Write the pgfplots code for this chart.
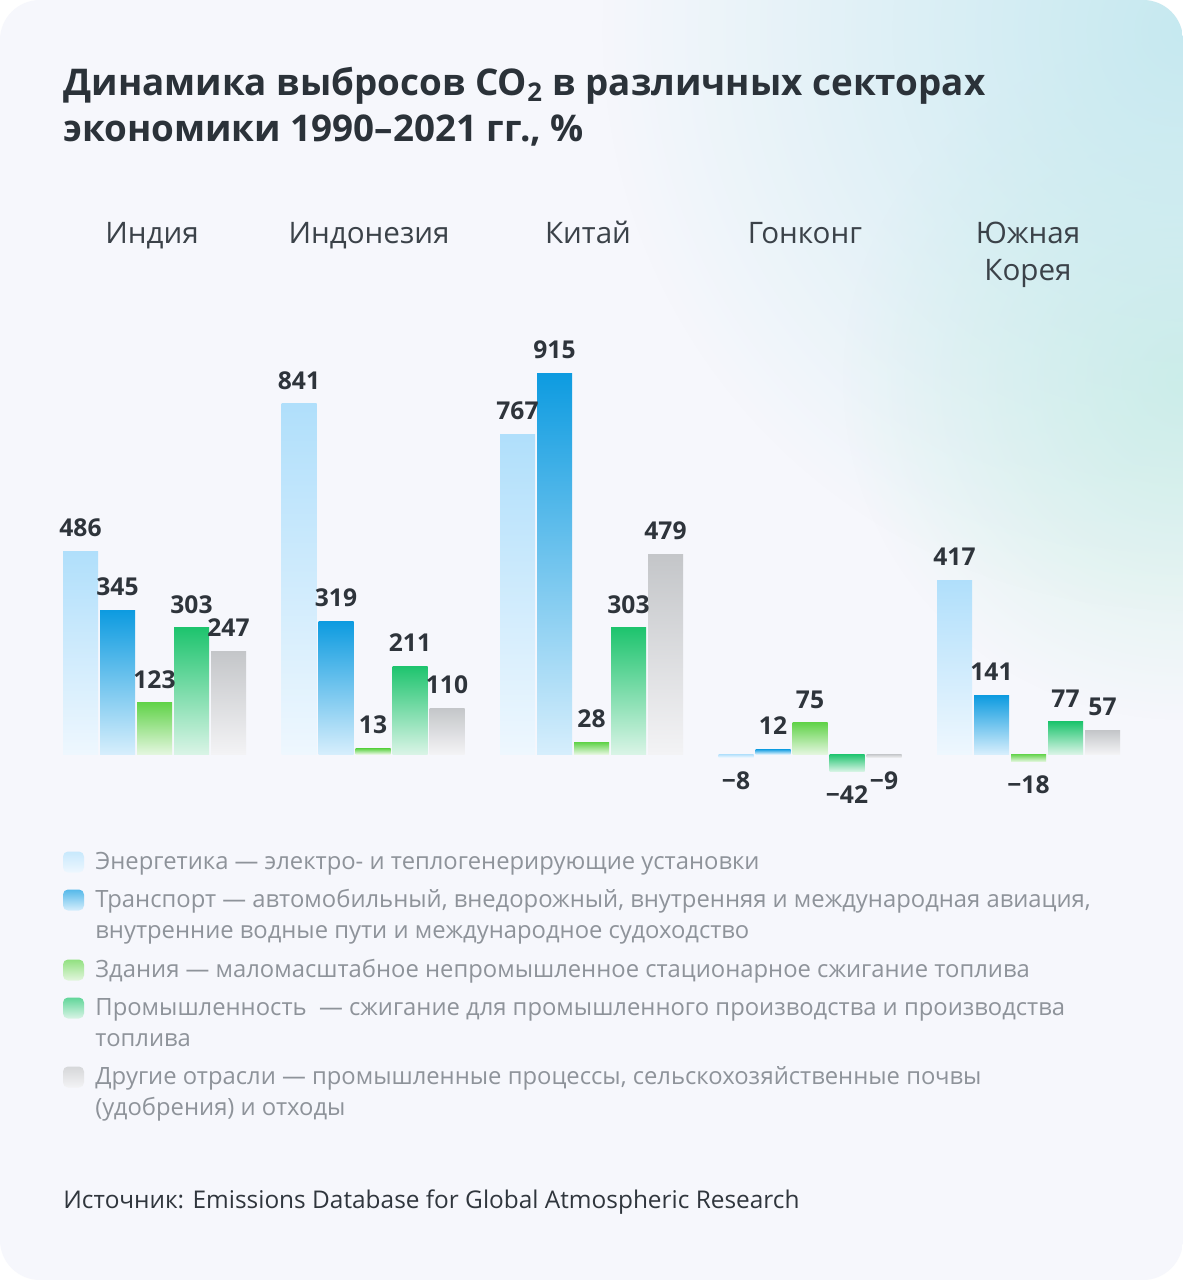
\documentclass[border=0pt]{standalone}
\usepackage{pgfplots}
\pgfplotsset{compat=1.18}
\usetikzlibrary{fadings}
\usepackage{fontspec}
\setmainfont{Open Sans}
\tikzfading[name=glowfade, inner color=transparent!0, outer color=transparent!100]
\definecolor{bgc}{HTML}{F6F7FC}
\definecolor{glowA}{HTML}{C6E9F0}
\definecolor{glowB}{HTML}{D0F0E6}
\definecolor{titlec}{HTML}{2B3239}
\definecolor{labc}{HTML}{3B4249}
\definecolor{valc}{HTML}{2E343B}
\definecolor{legc}{HTML}{8E939A}
\definecolor{srcc}{HTML}{30363D}
\definecolor{eA}{HTML}{B0DFFB}\definecolor{eB}{HTML}{EEF7FE}
\definecolor{tA}{HTML}{0D9BE0}\definecolor{tB}{HTML}{D6EEFC}
\definecolor{bA}{HTML}{62D34A}\definecolor{bB}{HTML}{E3F6DE}
\definecolor{iA}{HTML}{1EC46E}\definecolor{iB}{HTML}{D9F4E6}
\definecolor{oA}{HTML}{C4C6C9}\definecolor{oB}{HTML}{F3F3F5}
% one bar: x, y, label, shift, top colour, bottom colour, label anchor
\newcommand\onebar[7]{\addplot[draw=none, top color=#5, bottom color=#6, bar shift=#4,
  every node near coord/.append style={anchor=#7}] coordinates {(#1,#2) [#3]};}
\begin{document}
\begin{tikzpicture}
\useasboundingbox (0,0) rectangle (591.5pt,-640pt);
\begin{scope}[x=0.5pt,y=0.5pt]
\fill[white] (0,0) rectangle (1183,-1280);
\begin{scope}
\clip[rounded corners=20pt] (0,0) rectangle (1183,-1280);
\fill[bgc] (0,0) rectangle (1183,-1280);
\fill[glowB, path fading=glowfade] (1183,-380) circle (170pt);
\fill[glowA, path fading=glowfade] (1183,-30) circle (290pt);
\end{scope}
% title
\node[anchor=base west, inner sep=0, text=titlec, font=\fontsize{18.4}{20}\selectfont\bfseries] at (63,-95) {Динамика выбросов CO\textsubscript{2} в различных секторах};
\node[anchor=base west, inner sep=0, text=titlec, font=\fontsize{18.4}{20}\selectfont\bfseries] at (63,-141.5) {экономики 1990–2021 гг., \%};
% country labels
\foreach \xx/\tt in {152/Индия, 369/Индонезия, 588/Китай, 805/Гонконг, 1028/Южная}
  \node[anchor=base, inner sep=0, text=labc, font=\fontsize{14.8}{16}\selectfont] at (\xx,-243) {\tt};
\node[anchor=base, inner sep=0, text=labc, font=\fontsize{14.8}{16}\selectfont] at (1028,-280) {Корея};
% legend
\foreach \cy/\ca/\cb in {862/eA/eB, 900/tA/tB, 970/bA/bB, 1008/iA/iB, 1077/oA/oB}
  \shade[top color=\ca!70!white, bottom color=\cb, rounded corners=2.5pt] (63,-\cy+10.5) rectangle (84,-\cy-10.5);
\tikzset{leg/.style={anchor=base west, inner sep=0, text=legc, font=\fontsize{11.9}{12}\selectfont}}
\node[leg] at (95,-869.5) {Энергетика — электро- и теплогенерирующие установки};
\node[leg] at (95,-907.5) {Транспорт — автомобильный, внедорожный, внутренняя и международная авиация,};
\node[leg] at (95,-938.5) {внутренние водные пути и международное судоходство};
\node[leg] at (95,-977.5) {Здания — маломасштабное непромышленное стационарное сжигание топлива};
\node[leg] at (95,-1015.5) {Промышленность\ \ — сжигание для промышленного производства и производства};
\node[leg] at (95,-1046.5) {топлива};
\node[leg] at (95,-1084.5) {Другие отрасли — промышленные процессы, сельскохозяйственные почвы};
\node[leg] at (95,-1115.5) {(удобрения) и отходы};
\node[anchor=base west, inner sep=0, text=srcc, font=\fontsize{12.2}{13}\selectfont] at (63,-1208) {Источник: Emissions Database for Global Atmospheric Research};
\end{scope}
\begin{axis}[at={(77.25pt,-377pt)}, anchor=origin, x=109.25pt, y=0.2082pt,
  xmin=-0.6, xmax=4.6, ymin=-100, ymax=1000, hide axis, clip=false,
  ybar, bar width=17.5pt, nodes near coords, point meta=explicit symbolic,
  every node near coord/.append style={font=\fontsize{12.3}{13}\selectfont\bfseries, text=valc, inner xsep=0pt, inner ysep=7pt}]
% Энергетика
\onebar{0}{486}{486}{-37pt}{eA}{eB}{south}
\onebar{1}{841}{841}{-37pt}{eA}{eB}{south}
\onebar{2}{767}{767}{-37pt}{eA}{eB}{south}
\onebar{3}{-8}{−8}{-37pt}{eA}{eB}{north}
\onebar{4}{417}{417}{-37pt}{eA}{eB}{south}
% Транспорт
\onebar{0}{345}{345}{-18.5pt}{tA}{tB}{south}
\onebar{1}{319}{319}{-18.5pt}{tA}{tB}{south}
\onebar{2}{915}{915}{-18.5pt}{tA}{tB}{south}
\onebar{3}{12}{12}{-18.5pt}{tA}{tB}{south}
\onebar{4}{141}{141}{-18.5pt}{tA}{tB}{south}
% Здания
\onebar{0}{123}{123}{0pt}{bA}{bB}{south}
\onebar{1}{13}{13}{0pt}{bA}{bB}{south}
\onebar{2}{28}{28}{0pt}{bA}{bB}{south}
\onebar{3}{75}{75}{0pt}{bA}{bB}{south}
\onebar{4}{-18}{−18}{0pt}{bA}{bB}{north}
% Промышленность
\onebar{0}{303}{303}{18.5pt}{iA}{iB}{south}
\onebar{1}{211}{211}{18.5pt}{iA}{iB}{south}
\onebar{2}{303}{303}{18.5pt}{iA}{iB}{south}
\onebar{3}{-42}{−42}{18.5pt}{iA}{iB}{north}
\onebar{4}{77}{77}{18.5pt}{iA}{iB}{south}
% Другие отрасли
\onebar{0}{247}{247}{37pt}{oA}{oB}{south}
\onebar{1}{110}{110}{37pt}{oA}{oB}{south}
\onebar{2}{479}{479}{37pt}{oA}{oB}{south}
\onebar{3}{-9}{−9}{37pt}{oA}{oB}{north}
\onebar{4}{57}{57}{37pt}{oA}{oB}{south}
\end{axis}
\end{tikzpicture}
\end{document}
